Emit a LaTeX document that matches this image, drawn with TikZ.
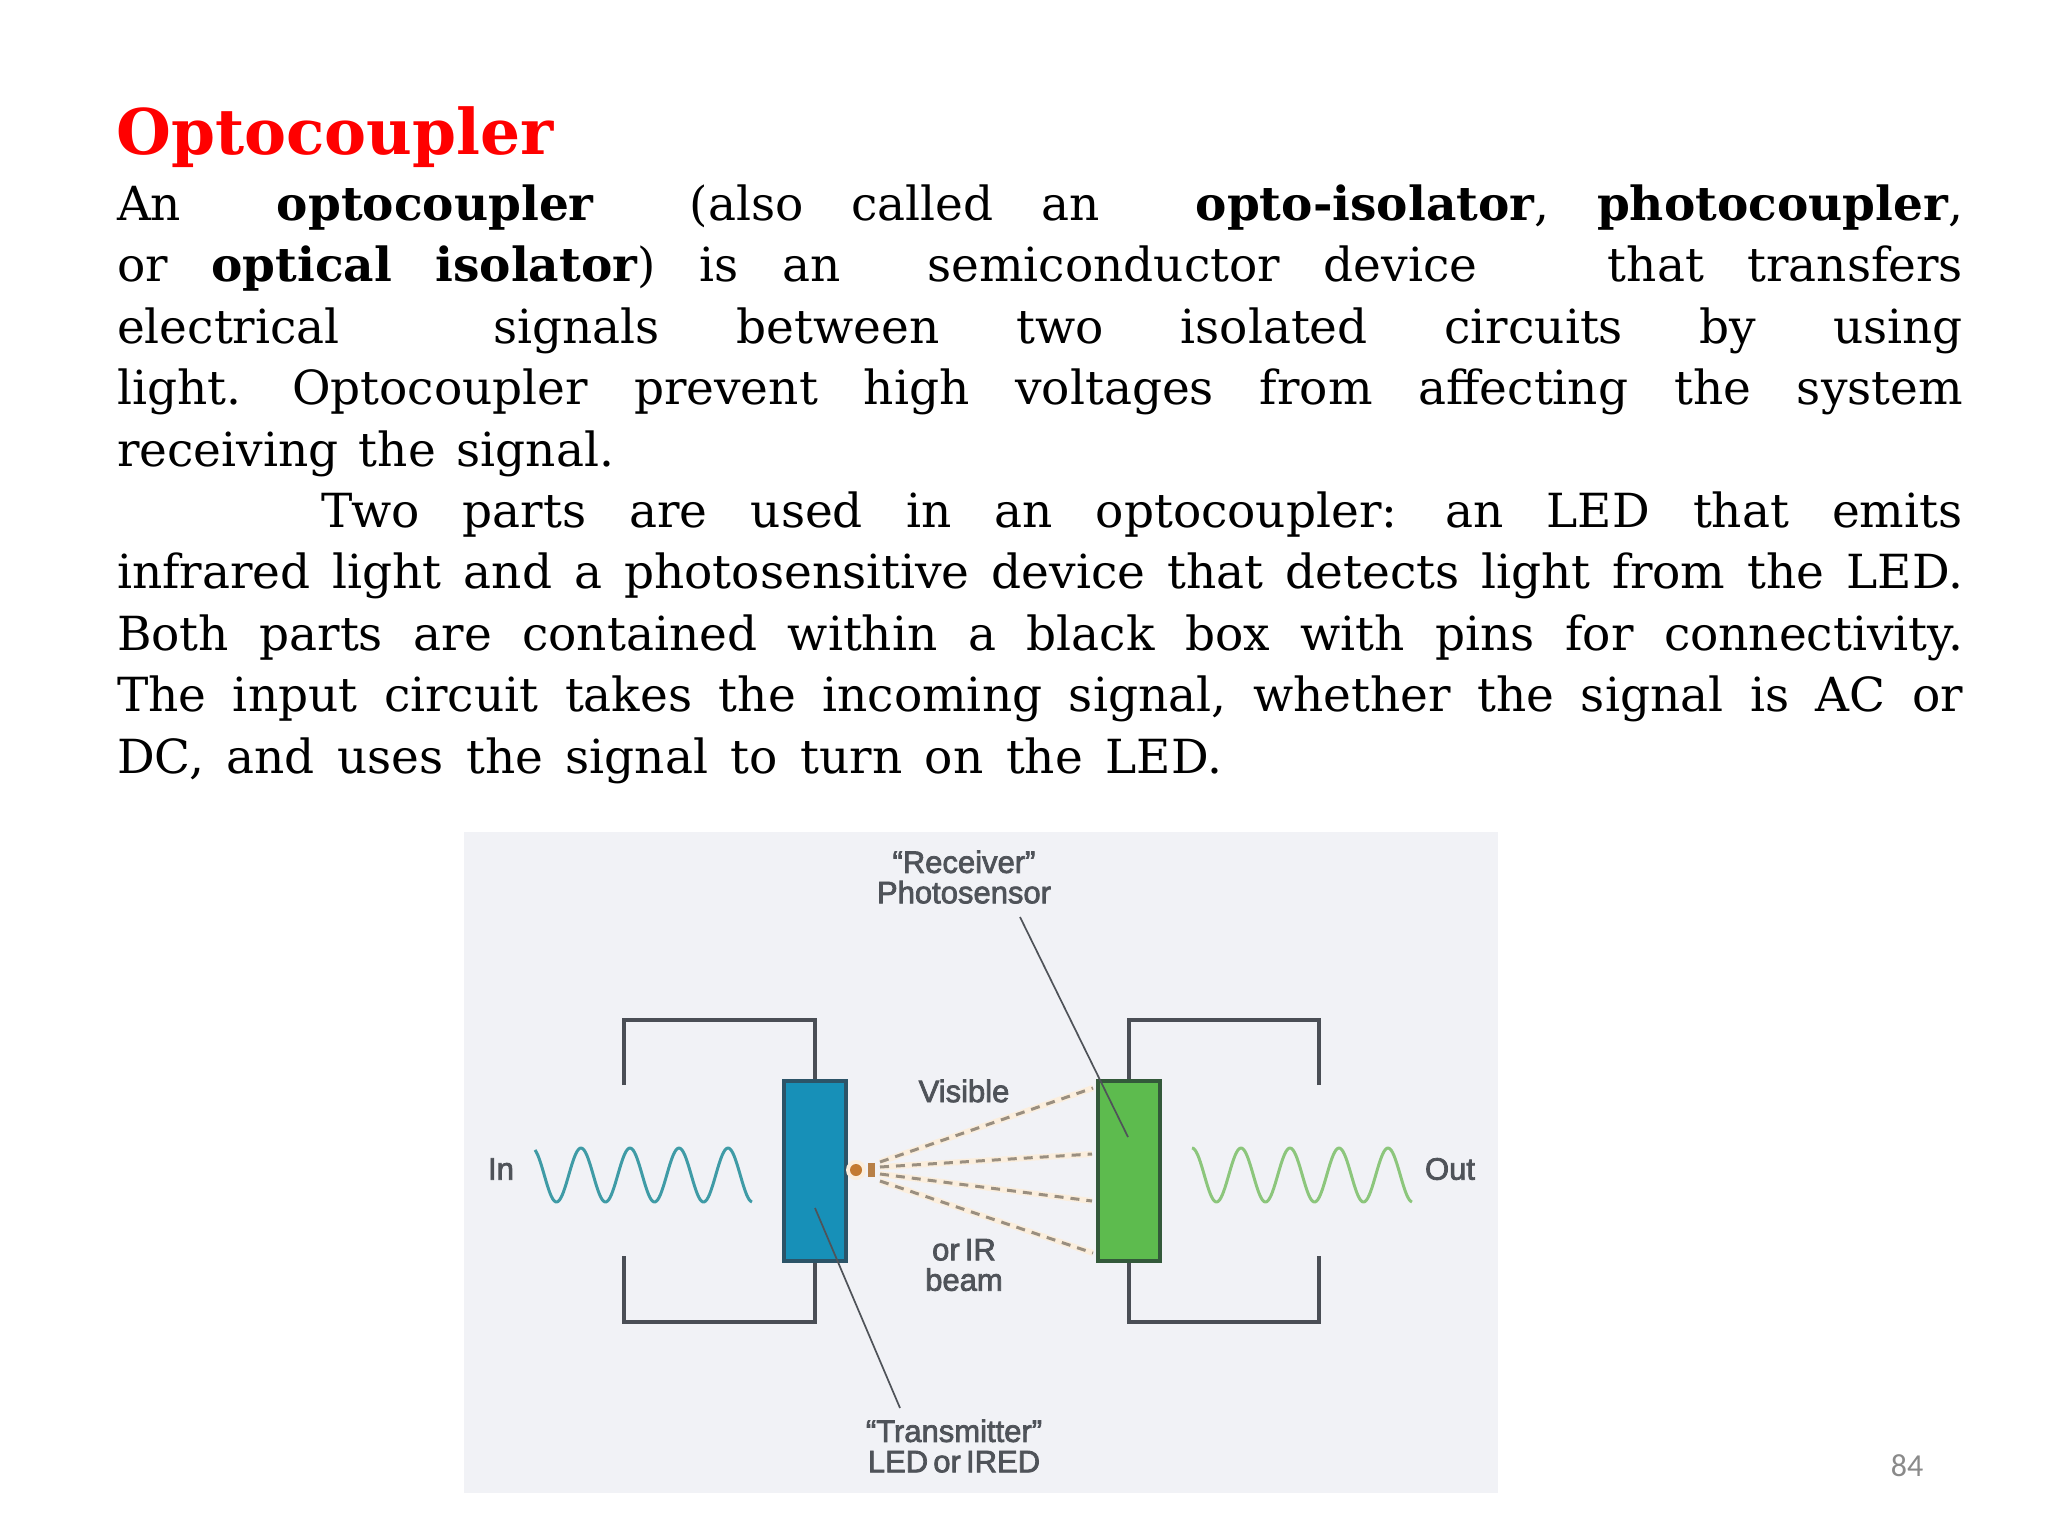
\documentclass[tikz,border=0pt]{standalone}
\usepackage{fontspec}
\setmainfont{DejaVu Serif}
\newfontfamily\labfont[FakeBold=2.4,WordSpace=0.6]{Liberation Sans}
\newfontfamily\numfont{Carlito}
\definecolor{panelbg}{HTML}{F1F2F6}
\definecolor{wire}{HTML}{4A4E55}
\definecolor{labelgray}{HTML}{4F5359}
\definecolor{bluebox}{HTML}{1790B8}
\definecolor{bluedge}{HTML}{2C5468}
\definecolor{greenbox}{HTML}{5DBB4E}
\definecolor{greenedge}{HTML}{33593A}
\definecolor{beam}{HTML}{9A8F80}
\definecolor{glow}{HTML}{FBEEDD}
\definecolor{emit}{HTML}{C47A30}
\definecolor{wavein}{HTML}{3F9BA6}
\definecolor{waveout}{HTML}{8CC67C}
\newcommand\ga{\hskip 0pt plus 1fil\relax}
\newcommand\gb{\hskip 0.32em plus 2fil\relax}
\newcommand\gc{\hskip 0.64em plus 3fil\relax}
\newcommand\tl[2]{\makebox[#1pt][s]{#2}}
\tikzset{
  textline/.style={anchor=base west,inner sep=0pt,outer sep=0pt,font=\fontsize{47}{50}\selectfont,text=black},
  tag/.style={inner sep=0pt,outer sep=0pt,align=center,text=labelgray,font=\labfont\fontsize{31}{31}\selectfont},
  coupler/.style={draw,line width=3.2pt,minimum width=62pt,minimum height=180pt,inner sep=0pt},
  wireline/.style={draw=wire,line width=3.4pt,line cap=butt,line join=miter},
  leader/.style={draw=labelgray,line width=1.7pt},
  beamglow/.style={draw=glow,line width=6pt},
  beamdash/.style={draw=beam,line width=3pt,dash pattern=on 9pt off 7pt},
}
\begin{document}
\begin{tikzpicture}[x=1pt,y=-1pt]
\useasboundingbox (0,0) rectangle (2048,1536);
\fill[white] (0,0) rectangle (2048,1536);
% Title and text
\node[anchor=base west,inner sep=0pt,text={rgb,255:red,255;green,0;blue,0},font=\bfseries\fontsize{63}{66}\selectfont] (title) at (116,155) {Optocoupler};
\node[textline] (l1) at (117,220.5) {\tl{1846}{An \gb \textbf{optocoupler} \gb (also \ga called \ga an \gb \textbf{opto-isolator}, \ga \textbf{photocoupler},}};
\node[textline] (l2) at (117,281.9) {\tl{1846}{or \ga \textbf{optical} \ga \textbf{isolator}) \ga is \ga an \gb semiconductor \ga device \gc that \ga transfers}};
\node[textline] (l3) at (117,343.3) {\tl{1846}{electrical \gb signals \ga between \ga two \ga isolated \ga circuits \ga by \ga using}};
\node[textline] (l4) at (117,404.7) {\tl{1846}{light. \ga Optocoupler \ga prevent \ga high \ga voltages \ga from \ga affecting \ga the \ga system}};
\node[textline] (l5) at (117,466.1) {\tl{497}{receiving \ga the \ga signal.}};
\node[textline] (l6) at (321.6,527.5) {\tl{1641}{Two \ga parts \ga are \ga used \ga in \ga an \ga optocoupler: \ga an \ga LED \ga that \ga emits}};
\node[textline] (l7) at (117,588.9) {\tl{1846}{infrared \ga light \ga and \ga a \ga photosensitive \ga device \ga that \ga detects \ga light \ga from \ga the \ga LED.}};
\node[textline] (l8) at (117,650.3) {\tl{1846}{Both \ga parts \ga are \ga contained \ga within \ga a \ga black \ga box \ga with \ga pins \ga for \ga connectivity.}};
\node[textline] (l9) at (117,711.7) {\tl{1846}{The \ga input \ga circuit \ga takes \ga the \ga incoming \ga signal, \ga whether \ga the \ga signal \ga is \ga AC \ga or}};
\node[textline] (l10) at (117,773.1) {\tl{1105}{DC, \ga and \ga uses \ga the \ga signal \ga to \ga turn \ga on \ga the \ga LED.}};
% Panel
\fill[panelbg] (464,832) rectangle (1498,1493);
% Coupler boxes
\node[coupler,draw=bluedge,fill=bluebox] (tx) at (815,1171) {};
\node[coupler,draw=greenedge,fill=greenbox] (rx) at (1129,1171) {};
% Circuit wires
\coordinate (la) at (624,1085); \coordinate (lb) at (624,1020); \coordinate (lc) at (624,1256); \coordinate (ld) at (624,1322);
\coordinate (ra) at (1319,1085); \coordinate (rb) at (1319,1020); \coordinate (rc) at (1319,1256); \coordinate (rd) at (1319,1322);
\draw[wireline] (la) -- (lb) -| (tx.north);
\draw[wireline] (lc) -- (ld) -| (tx.south);
\draw[wireline] (ra) -- (rb) -| (rx.north);
\draw[wireline] (rc) -- (rd) -| (rx.south);
% Light beams
\coordinate (src) at (856,1170);
\coordinate (b1) at (880,1162); \coordinate (b2) at (880,1167); \coordinate (b3) at (880,1174); \coordinate (b4) at (880,1181);
\coordinate (e1) at (1093,1088); \coordinate (e2) at (1092,1154); \coordinate (e3) at (1092,1201); \coordinate (e4) at (1093,1253);
\foreach \i in {1,2,3,4} {\draw[beamglow] (b\i) -- (e\i);}
\foreach \i in {1,2,3,4} {\draw[beamdash] (b\i) -- (e\i);}
\fill[glow] (src) circle (10);
\fill[emit] (src) circle (6);
\fill[emit!70!beam] (868,1163) rectangle (875,1177);
% Waves
\draw[wavein,line width=3pt,line join=round] plot[domain=535:752,samples=160,variable=\x] (\x,{1175-27*cos((\x-532)/49*360)});
\draw[waveout,line width=3pt,line join=round] plot[domain=1192:1412,samples=160,variable=\x] (\x,{1175-27*cos((\x-1192)/49*360)});
% Labels
\node[tag] (rlabel) at (964,877) {“Receiver”\\[-0.02em]Photosensor};
\node[tag] (tlabel) at (954,1446) {“Transmitter”\\[-0.02em]LED or IRED};
\node[tag] (vis) at (964,1091) {Visible};
\node[tag] (ir) at (964,1265) {or IR\\[-0.02em]beam};
\node[tag] (inl) at (501,1169) {In};
\node[tag] (outl) at (1450,1169) {Out};
\coordinate (rtip) at (1128,1137); \coordinate (rstart) at (1020,917);
\coordinate (ttip) at (815,1208); \coordinate (tstart) at (900,1408);
\draw[leader] (rstart) -- (rtip);
\draw[leader] (ttip) -- (tstart);
\node[anchor=base,inner sep=0pt,text={rgb,255:red,138;green,138;blue,138},font=\numfont\fontsize{32}{34}\selectfont] (pagenum) at (1907,1476) {84};
\end{tikzpicture}
\end{document}
